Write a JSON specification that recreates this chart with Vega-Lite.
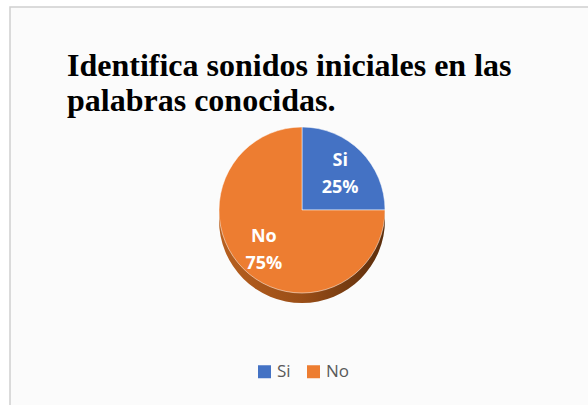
{
  "$schema": "https://vega.github.io/schema/vega-lite/v6.json",
  "autosize": "none",
  "width": 584,
  "height": 406,
  "padding": {"left": 10, "top": 7, "right": 0, "bottom": 0},
  "background": "white",
  "view": {"stroke": "#d0d0d0", "strokeWidth": 1.5, "fill": "#fbfbfb"},
  "title": {
    "text": ["Identifica sonidos iniciales en las", "palabras conocidas."],
    "font": "Liberation Serif",
    "fontSize": 32,
    "fontWeight": "bold",
    "color": "#000000",
    "lineHeight": 35,
    "anchor": "start",
    "frame": "group",
    "baseline": "alphabetic",
    "offset": -136,
    "dx": 57
  },
  "data": {
    "values": [
      {"cat": "Si", "value": 0.25, "order": 1},
      {"cat": "No", "value": 0.75, "order": 2}
    ]
  },
  "layer": [
    {
      "mark": {
        "type": "arc",
        "outerRadius": 83,
        "yOffset": 10,
        "fill": {
          "gradient": "linear",
          "x1": 0, "y1": 0, "x2": 1, "y2": 0,
          "stops": [
            {"offset": 0, "color": "#b8601f"},
            {"offset": 0.5, "color": "#9a4e17"},
            {"offset": 1, "color": "#5a2d0c"}
          ]
        }
      },
      "encoding": {
        "theta": {"field": "value", "type": "quantitative", "stack": true},
        "order": {"field": "order", "type": "quantitative"}
      }
    },
    {
      "mark": {"type": "arc", "outerRadius": 83, "stroke": "white", "strokeWidth": 0.5},
      "encoding": {
        "theta": {"field": "value", "type": "quantitative", "stack": true},
        "order": {"field": "order", "type": "quantitative"},
        "color": {
          "field": "cat",
          "type": "nominal",
          "sort": ["Si", "No"],
          "scale": {"domain": ["Si", "No"], "range": ["#4472C4", "#ED7D31"]},
          "legend": {
            "title": null,
            "orient": "none",
            "direction": "horizontal",
            "legendX": 246,
            "legendY": 356,
            "padding": 0,
            "symbolType": "square",
            "symbolSize": 169,
            "symbolStrokeWidth": 0,
            "labelFont": "Open Sans",
            "labelFontSize": 17,
            "labelColor": "#595959",
            "columnPadding": 14,
            "labelOffset": 4
          }
        }
      }
    },
    {
      "mark": {"type": "text", "radius": 54, "dy": -11, "font": "Open Sans", "fontSize": 18, "fontWeight": "bold", "color": "white"},
      "encoding": {
        "theta": {"field": "value", "type": "quantitative", "stack": true},
        "order": {"field": "order", "type": "quantitative"},
        "text": {"field": "cat", "type": "nominal"}
      }
    },
    {
      "mark": {"type": "text", "radius": 54, "dy": 16, "font": "Open Sans", "fontSize": 18, "fontWeight": "bold", "color": "white"},
      "encoding": {
        "theta": {"field": "value", "type": "quantitative", "stack": true},
        "order": {"field": "order", "type": "quantitative"},
        "text": {"field": "value", "type": "quantitative", "format": ".0%"}
      }
    }
  ]
}
